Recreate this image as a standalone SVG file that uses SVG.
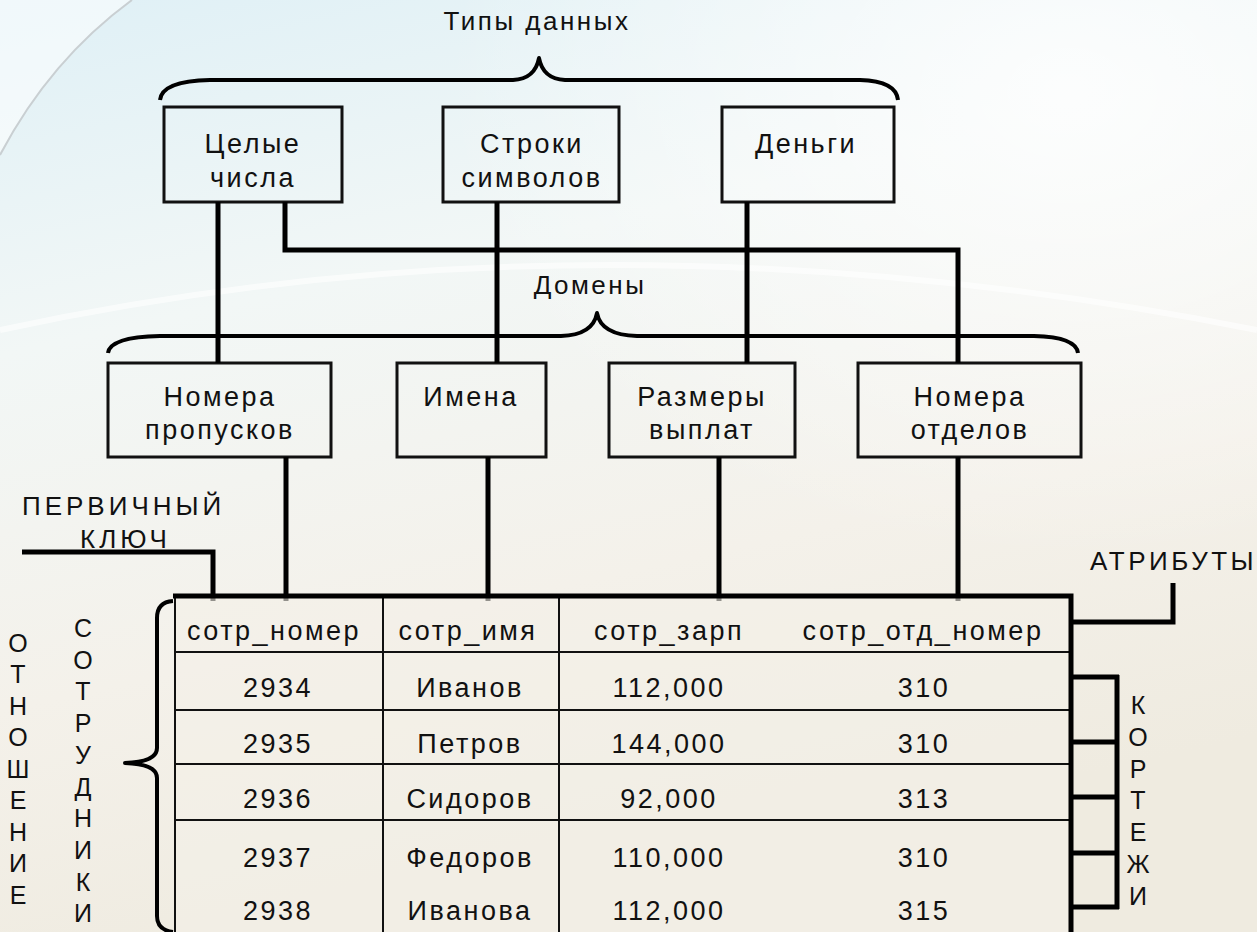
<svg xmlns="http://www.w3.org/2000/svg" width="1257" height="932" viewBox="0 0 1257 932">
<defs>
<linearGradient id="bg" x1="0" y1="0" x2="0.3" y2="1">
<stop offset="0" stop-color="#dff0f6"/>
<stop offset="0.35" stop-color="#f2f7f6"/>
<stop offset="0.7" stop-color="#f4f1ea"/>
<stop offset="1" stop-color="#efebe0"/>
</linearGradient>
<radialGradient id="glow" cx="0.85" cy="0.1" r="0.5">
<stop offset="0" stop-color="#ffffff" stop-opacity="0.8"/>
<stop offset="1" stop-color="#ffffff" stop-opacity="0"/>
</radialGradient>
<style>
.t{font-family:"Liberation Sans",Arial,sans-serif;font-size:27px;letter-spacing:2.5px;fill:#111;text-anchor:middle}
.h{font-family:"Liberation Sans",Arial,sans-serif;font-size:26px;letter-spacing:2.5px;fill:#111;text-anchor:middle}
.v{font-family:"Liberation Sans",Arial,sans-serif;font-size:25px;fill:#111;text-anchor:middle}
.lbl{font-family:"Liberation Sans",Arial,sans-serif;font-size:26px;letter-spacing:4px;fill:#111}
.box{fill:none;stroke:#111;stroke-width:3}
.con{fill:none;stroke:#000;stroke-width:5;stroke-linecap:butt;stroke-linejoin:miter}
.brace{fill:none;stroke:#000;stroke-width:4;stroke-linejoin:round}
.grid{fill:none;stroke:#111;stroke-width:2}
.thick{fill:none;stroke:#000;stroke-width:5}
</style>
</defs>
<rect x="0" y="0" width="1257" height="932" fill="url(#bg)"/>
<rect x="0" y="0" width="1257" height="932" fill="url(#glow)"/>
<path d="M0,155 Q50,60 132,0 L0,0 Z" fill="#ffffff" fill-opacity="0.55"/>
<path d="M0,155 Q50,60 132,0" fill="none" stroke="#c9cfd2" stroke-width="2"/>
<path d="M0,330 Q600,200 1257,330" fill="none" stroke="#ffffff" stroke-opacity="0.6" stroke-width="6"/>

<g id="title-types">
<text class="h" x="537" y="30">Типы данных</text>
<path class="brace" d="M160,100 Q162,81 210,80 L513,80 Q535,79 539,58 Q543,79 565,80 L860,80 Q896,81 898,100"/>
</g>

<g id="node-int">
<rect class="box" x="164" y="107" width="178" height="95"/>
<text class="t" x="253" y="153">Целые</text>
<text class="t" x="253" y="187">числа</text>
</g>
<g id="node-str">
<rect class="box" x="443" y="107" width="176" height="95"/>
<text class="t" x="532" y="153">Строки</text>
<text class="t" x="532" y="187">символов</text>
</g>
<g id="node-money">
<rect class="box" x="722" y="107" width="172" height="95"/>
<text class="t" x="806" y="153">Деньги</text>
</g>

<g id="title-domains">
<text class="h" x="590" y="294">Домены</text>
<path class="brace" d="M108,353 Q110,337 160,336 L561,336 Q593,335 597,313 Q601,335 637,336 L1034,336 Q1076,337 1078,353"/>
</g>

<g id="node-passes">
<rect class="box" x="108" y="363" width="223" height="94"/>
<text class="t" x="220" y="406">Номера</text>
<text class="t" x="220" y="439">пропусков</text>
</g>
<g id="node-names">
<rect class="box" x="397" y="363" width="149" height="94"/>
<text class="t" x="471" y="406">Имена</text>
</g>
<g id="node-pay">
<rect class="box" x="609" y="363" width="186" height="94"/>
<text class="t" x="702" y="406">Размеры</text>
<text class="t" x="702" y="439">выплат</text>
</g>
<g id="node-depts">
<rect class="box" x="858" y="363" width="223" height="94"/>
<text class="t" x="970" y="406">Номера</text>
<text class="t" x="970" y="439">отделов</text>
</g>

<g id="connectors">
<path class="con" d="M218,202 L218,363"/>
<path class="con" d="M285,202 L285,250 L958,250 L958,363" stroke-width="6"/>
<path class="con" d="M497,202 L497,363"/>
<path class="con" d="M747,202 L747,363"/>
<path class="con" d="M286,457 L286,601"/>
<path class="con" d="M488,457 L488,601"/>
<path class="con" d="M719,457 L719,601"/>
<path class="con" d="M958,457 L958,601"/>
<path class="con" d="M22,552 L213,552 L213,601" stroke-width="4"/>
<path class="con" d="M1173,583 L1173,622 L1071,622" stroke-width="4"/>
<path class="con" d="M1117,675 L1117,909"/>
<path class="con" d="M1071,677 L1119,677"/>
<path class="con" d="M1071,742 L1119,742"/>
<path class="con" d="M1071,797 L1119,797"/>
<path class="con" d="M1071,853 L1119,853" stroke-width="3"/>
<path class="con" d="M1071,907 L1119,907"/>
</g>

<g id="label-pk">
<text class="lbl" x="22" y="515">ПЕРВИЧНЫЙ</text>
<text class="lbl" x="80" y="548">КЛЮЧ</text>
</g>
<g id="label-attrs">
<text class="lbl" x="1090" y="570" style="letter-spacing:3.5px">АТРИБУТЫ</text>
</g>

<g id="table-employees">
<rect x="175" y="596" width="896" height="340" fill="#f4f0e7" fill-opacity="0.6"/>
<path class="grid" d="M175,596 L175,936"/>
<path class="grid" d="M175,652 L1071,652 M175,710 L1071,710 M175,764 L1071,764 M175,820 L1071,820"/>
<path class="grid" d="M383,596 L383,936 M559,596 L559,936"/>
<path class="thick" d="M173,596 L1071,596 L1071,936"/>
<text class="t" x="274" y="640">сотр_номер</text>
<text class="t" x="468" y="640">сотр_имя</text>
<text class="t" x="669" y="640">сотр_зарп</text>
<text class="t" x="923" y="640">сотр_отд_номер</text>
<text class="t" x="278" y="697">2934</text>
<text class="t" x="470" y="697">Иванов</text>
<text class="t" x="669" y="697">112,000</text>
<text class="t" x="924" y="697">310</text>
<text class="t" x="278" y="753">2935</text>
<text class="t" x="470" y="753">Петров</text>
<text class="t" x="669" y="753">144,000</text>
<text class="t" x="924" y="753">310</text>
<text class="t" x="278" y="808">2936</text>
<text class="t" x="470" y="808">Сидоров</text>
<text class="t" x="669" y="808">92,000</text>
<text class="t" x="924" y="808">313</text>
<text class="t" x="278" y="867">2937</text>
<text class="t" x="470" y="867">Федоров</text>
<text class="t" x="669" y="867">110,000</text>
<text class="t" x="924" y="867">310</text>
<text class="t" x="278" y="920">2938</text>
<text class="t" x="470" y="920">Иванова</text>
<text class="t" x="669" y="920">112,000</text>
<text class="t" x="924" y="920">315</text>
</g>

<g id="brace-relation">
<path class="brace" d="M173,601 Q157,602 157,618 L157,748 Q157,762 125,763 Q157,764 157,778 L157,916 Q157,930 173,932"/>
</g>

<g id="label-relation">
<text class="v" x="18" y="652">О</text>
<text class="v" x="18" y="683">Т</text>
<text class="v" x="18" y="715">Н</text>
<text class="v" x="18" y="746">О</text>
<text class="v" x="18" y="778">Ш</text>
<text class="v" x="18" y="809">Е</text>
<text class="v" x="18" y="841">Н</text>
<text class="v" x="18" y="872">И</text>
<text class="v" x="18" y="904">Е</text>
</g>
<g id="label-employees">
<text class="v" x="83" y="637">С</text>
<text class="v" x="83" y="669">О</text>
<text class="v" x="83" y="700">Т</text>
<text class="v" x="83" y="732">Р</text>
<text class="v" x="83" y="764">У</text>
<text class="v" x="83" y="796">Д</text>
<text class="v" x="83" y="827">Н</text>
<text class="v" x="83" y="859">И</text>
<text class="v" x="83" y="891">К</text>
<text class="v" x="83" y="922">И</text>
</g>
<g id="label-tuples">
<text class="v" x="1138" y="714">К</text>
<text class="v" x="1138" y="746">О</text>
<text class="v" x="1138" y="778">Р</text>
<text class="v" x="1138" y="809">Т</text>
<text class="v" x="1138" y="841">Е</text>
<text class="v" x="1138" y="873">Ж</text>
<text class="v" x="1138" y="905">И</text>
</g>
</svg>
